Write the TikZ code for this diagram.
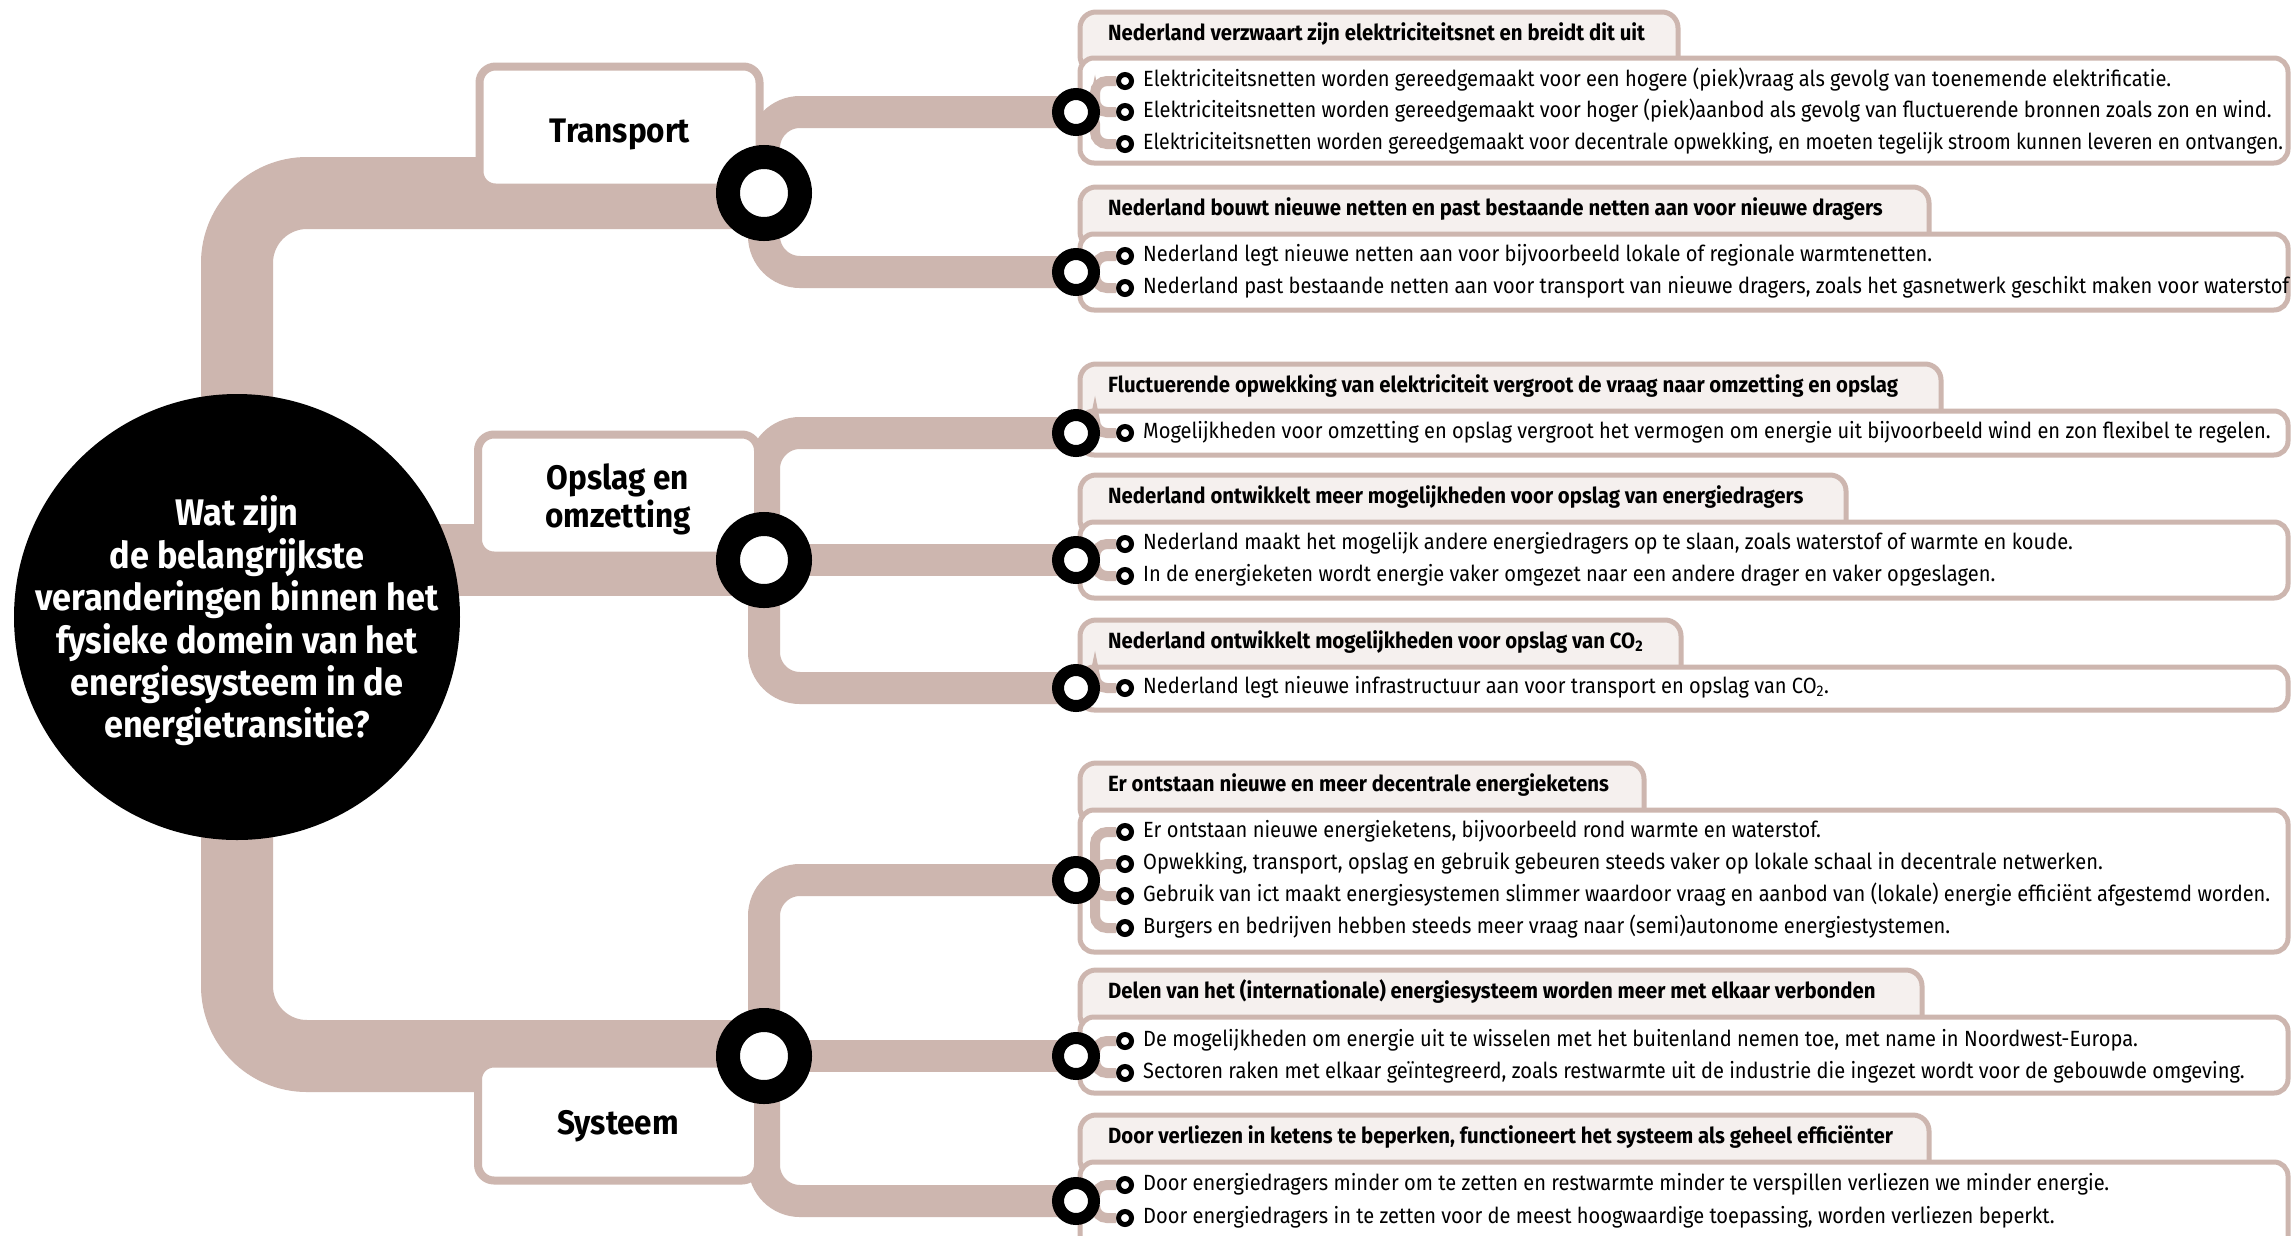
\documentclass[tikz,border=0pt]{standalone}
\usepackage{fontspec}
\setmainfont{Fira Sans}[FakeStretch=0.926]
\newfontfamily\itemfont{Fira Sans}[FakeStretch=0.912]
\newfontfamily\itemfontnarrow{Fira Sans}[FakeStretch=0.888]
\usepackage{xcolor}
\usepackage{tikz}
\usetikzlibrary{positioning}
\definecolor{pipebrown}{RGB}{205,182,175}
\definecolor{tabfill}{RGB}{245,240,238}

\begin{document}
\begin{tikzpicture}[x=1pt, y=-1pt,
  pipe/.style={draw=pipebrown, line cap=butt},
  bigring/.style={circle, draw=black, fill=white, line width=24pt, minimum size=72pt, inner sep=0pt},
  smallring/.style={circle, draw=black, fill=white, line width=12pt, minimum size=36pt, inner sep=0pt},
  dot/.style={circle, draw=black, fill=white, line width=5pt, minimum size=13pt, inner sep=0pt},
  catbox/.style={draw=pipebrown, fill=white, line width=8pt, rounded corners=16pt, inner sep=0pt, minimum width=280pt},
  cattext/.style={font=\bfseries\fontsize{34}{38}\selectfont, align=center, inner sep=0pt},
  tabbox/.style={draw=pipebrown, fill=tabfill, line width=5pt, rounded corners=16pt},
  bodybox/.style={draw=pipebrown, fill=white, line width=5pt, rounded corners=14pt},
  item/.style={font=\itemfont\fontsize{22}{26}\selectfont, inner sep=0pt, text height=16pt, text depth=5pt, right=9pt of #1},
  headline/.style={font=\bfseries\fontsize{22}{26}\selectfont, anchor=west, inner sep=0pt, text height=16pt, text depth=5pt},
]
\fill[white] (0,0) rectangle (2292,1235);
\useasboundingbox (0,0) rectangle (2292,1235);

\coordinate (rT) at (764,193);
\coordinate (rO) at (764,560);
\coordinate (rS) at (764,1056);
\coordinate (s1) at (1076,112);
\coordinate (s2) at (1076,272);
\coordinate (s3) at (1076,433);
\coordinate (s4) at (1076,560);
\coordinate (s5) at (1076,688);
\coordinate (s6) at (1076,880);
\coordinate (s7) at (1076,1056);
\coordinate (s8) at (1076,1201);

% trunk
\draw[pipe, line width=72pt, rounded corners=70pt] (rT) -- (237,193) -- (237,1056) -- (rS);
\draw[pipe, line width=72pt] (237,560) -- (rO);
\node[circle, fill=black, minimum size=446pt, inner sep=0pt] (question) at (237,617) {};
\node[text=white, align=center, inner sep=0pt, font=\bfseries\fontsize{37}{42.4}\selectfont] (qtext) at (237,621)
  {Wat zijn\\de belangrijkste\\veranderingen binnen het\\fysieke domein van het\\energiesysteem in de\\energietransitie?};

% branches
\draw[pipe, line width=32pt, rounded corners=36pt] (rT) |- (s1);
\draw[pipe, line width=32pt, rounded corners=36pt] (rT) |- (s2);
\draw[pipe, line width=32pt, rounded corners=36pt] (rO) |- (s3);
\draw[pipe, line width=32pt] (rO) -- (s4);
\draw[pipe, line width=32pt, rounded corners=36pt] (rO) |- (s5);
\draw[pipe, line width=32pt, rounded corners=36pt] (rS) |- (s6);
\draw[pipe, line width=32pt] (rS) -- (s7);
\draw[pipe, line width=32pt, rounded corners=36pt] (rS) |- (s8);

\node[catbox, minimum height=121pt] (boxT) at (619.5,127) {};
\node[catbox, minimum height=121pt] (boxO) at (618,495) {};
\node[catbox, minimum height=117pt] (boxS) at (618,1122) {};
\node[cattext] (transport) at (620,134) {Transport};
\node[cattext] (opslag) at (618,499) {Opslag en\\omzetting};
\node[cattext] (systeem) at (618,1126) {Systeem};

\node[bigring] (ringT) at (rT) {};
\node[bigring] (ringO) at (rO) {};
\node[bigring] (ringS) at (rS) {};

% group 1
\draw[tabbox] (1080,12) rectangle (1678,72);
\draw[bodybox] (1080,58) rectangle (2288,163);
\node[headline] (h1) at (1108,35) {Nederland verzwaart zijn elektriciteitsnet en breidt dit uit};
\node[dot] (b11) at (1125,81) {};
\node[dot] (b12) at (1125,112) {};
\node[dot] (b13) at (1125,144) {};
\node[item=b11] (t11) {Elektriciteitsnetten worden gereedgemaakt voor een hogere (piek)vraag als gevolg van toenemende elektrificatie.};
\node[item=b12] (t12) {Elektriciteitsnetten worden gereedgemaakt voor hoger (piek)aanbod als gevolg van fluctuerende bronnen zoals zon en wind.};
\node[item=b13, font=\itemfontnarrow\fontsize{22}{26}\selectfont] (t13) {Elektriciteitsnetten worden gereedgemaakt voor decentrale opwekking, en moeten tegelijk stroom kunnen leveren en ontvangen.};

% group 2
\draw[tabbox] (1080,187) rectangle (1929,248);
\draw[bodybox] (1080,234) rectangle (2288,310);
\node[headline] (h2) at (1108,210) {Nederland bouwt nieuwe netten en past bestaande netten aan voor nieuwe dragers};
\node[dot] (b21) at (1125,256) {};
\node[dot] (b22) at (1125,288) {};
\node[item=b21] (t21) {Nederland legt nieuwe netten aan voor bijvoorbeeld lokale of regionale warmtenetten.};
\node[item=b22] (t22) {Nederland past bestaande netten aan voor transport van nieuwe dragers, zoals het gasnetwerk geschikt maken voor waterstof};

% group 3
\draw[tabbox] (1080,364) rectangle (1941,425);
\draw[bodybox] (1080,411) rectangle (2288,455);
\node[headline] (h3) at (1108,387) {Fluctuerende opwekking van elektriciteit vergroot de vraag naar omzetting en opslag};
\node[dot] (b31) at (1125,433) {};
\node[item=b31] (t31) {Mogelijkheden voor omzetting en opslag vergroot het vermogen om energie uit bijvoorbeeld wind en zon flexibel te regelen.};

% group 4
\draw[tabbox] (1080,475) rectangle (1846,536);
\draw[bodybox] (1080,522) rectangle (2288,598);
\node[headline] (h4) at (1108,498) {Nederland ontwikkelt meer mogelijkheden voor opslag van energiedragers};
\node[dot] (b41) at (1125,544) {};
\node[dot] (b42) at (1125,576) {};
\node[item=b41] (t41) {Nederland maakt het mogelijk andere energiedragers op te slaan, zoals waterstof of warmte en koude.};
\node[item=b42] (t42) {In de energieketen wordt energie vaker omgezet naar een andere drager en vaker opgeslagen.};

% group 5
\draw[tabbox] (1080,620) rectangle (1681,681);
\draw[bodybox] (1080,667) rectangle (2288,710);
\node[headline] (h5) at (1108,643) {Nederland ontwikkelt mogelijkheden voor opslag van CO\textsubscript{2}};
\node[dot] (b51) at (1125,688) {};
\node[item=b51] (t51) {Nederland legt nieuwe infrastructuur aan voor transport en opslag van CO\textsubscript{2}.};

% group 6
\draw[tabbox] (1080,763) rectangle (1644,824);
\draw[bodybox] (1080,810) rectangle (2288,952);
\node[headline] (h6) at (1108,786) {Er ontstaan nieuwe en meer decentrale energieketens};
\node[dot] (b61) at (1125,832) {};
\node[dot] (b62) at (1125,864) {};
\node[dot] (b63) at (1125,896) {};
\node[dot] (b64) at (1125,928) {};
\node[item=b61] (t61) {Er ontstaan nieuwe energieketens, bijvoorbeeld rond warmte en waterstof.};
\node[item=b62] (t62) {Opwekking, transport, opslag en gebruik gebeuren steeds vaker op lokale schaal in decentrale netwerken.};
\node[item=b63] (t63) {Gebruik van ict maakt energiesystemen slimmer waardoor vraag en aanbod van (lokale) energie efficiënt afgestemd worden.};
\node[item=b64] (t64) {Burgers en bedrijven hebben steeds meer vraag naar (semi)autonome energiestystemen.};

% group 7
\draw[tabbox] (1080,970) rectangle (1922,1031);
\draw[bodybox] (1080,1017) rectangle (2288,1093);
\node[headline] (h7) at (1108,993) {Delen van het (internationale) energiesysteem worden meer met elkaar verbonden};
\node[dot] (b71) at (1125,1041) {};
\node[dot] (b72) at (1125,1073) {};
\node[item=b71] (t71) {De mogelijkheden om energie uit te wisselen met het buitenland nemen toe, met name in Noordwest-Europa.};
\node[item=b72] (t72) {Sectoren raken met elkaar geïntegreerd, zoals restwarmte uit de industrie die ingezet wordt voor de gebouwde omgeving.};

% group 8
\draw[tabbox] (1080,1115) rectangle (1929,1176);
\draw[bodybox] (1080,1162) rectangle (2288,1250);
\node[headline] (h8) at (1108,1138) {Door verliezen in ketens te beperken, functioneert het systeem als geheel efficiënter};
\node[dot] (b81) at (1125,1185) {};
\node[dot] (b82) at (1125,1218) {};
\node[item=b81] (t81) {Door energiedragers minder om te zetten en restwarmte minder te verspillen verliezen we minder energie.};
\node[item=b82] (t82) {Door energiedragers in te zetten voor de meest hoogwaardige toepassing, worden verliezen beperkt.};

% thin lines to the bullets
\foreach \s/\b in {s1/b11, s1/b12, s1/b13, s2/b21, s2/b22, s3/b31, s4/b41, s4/b42, s5/b51,
  s6/b61, s6/b62, s6/b63, s6/b64, s7/b71, s7/b72, s8/b81, s8/b82}
  \draw[pipe, line width=10pt, rounded corners=12pt] (\s) -- ([xshift=19pt]\s) |- (\b);

\node[smallring] (n1) at (s1) {};
\node[smallring] (n2) at (s2) {};
\node[smallring] (n3) at (s3) {};
\node[smallring] (n4) at (s4) {};
\node[smallring] (n5) at (s5) {};
\node[smallring] (n6) at (s6) {};
\node[smallring] (n7) at (s7) {};
\node[smallring] (n8) at (s8) {};
\end{tikzpicture}
\end{document}
